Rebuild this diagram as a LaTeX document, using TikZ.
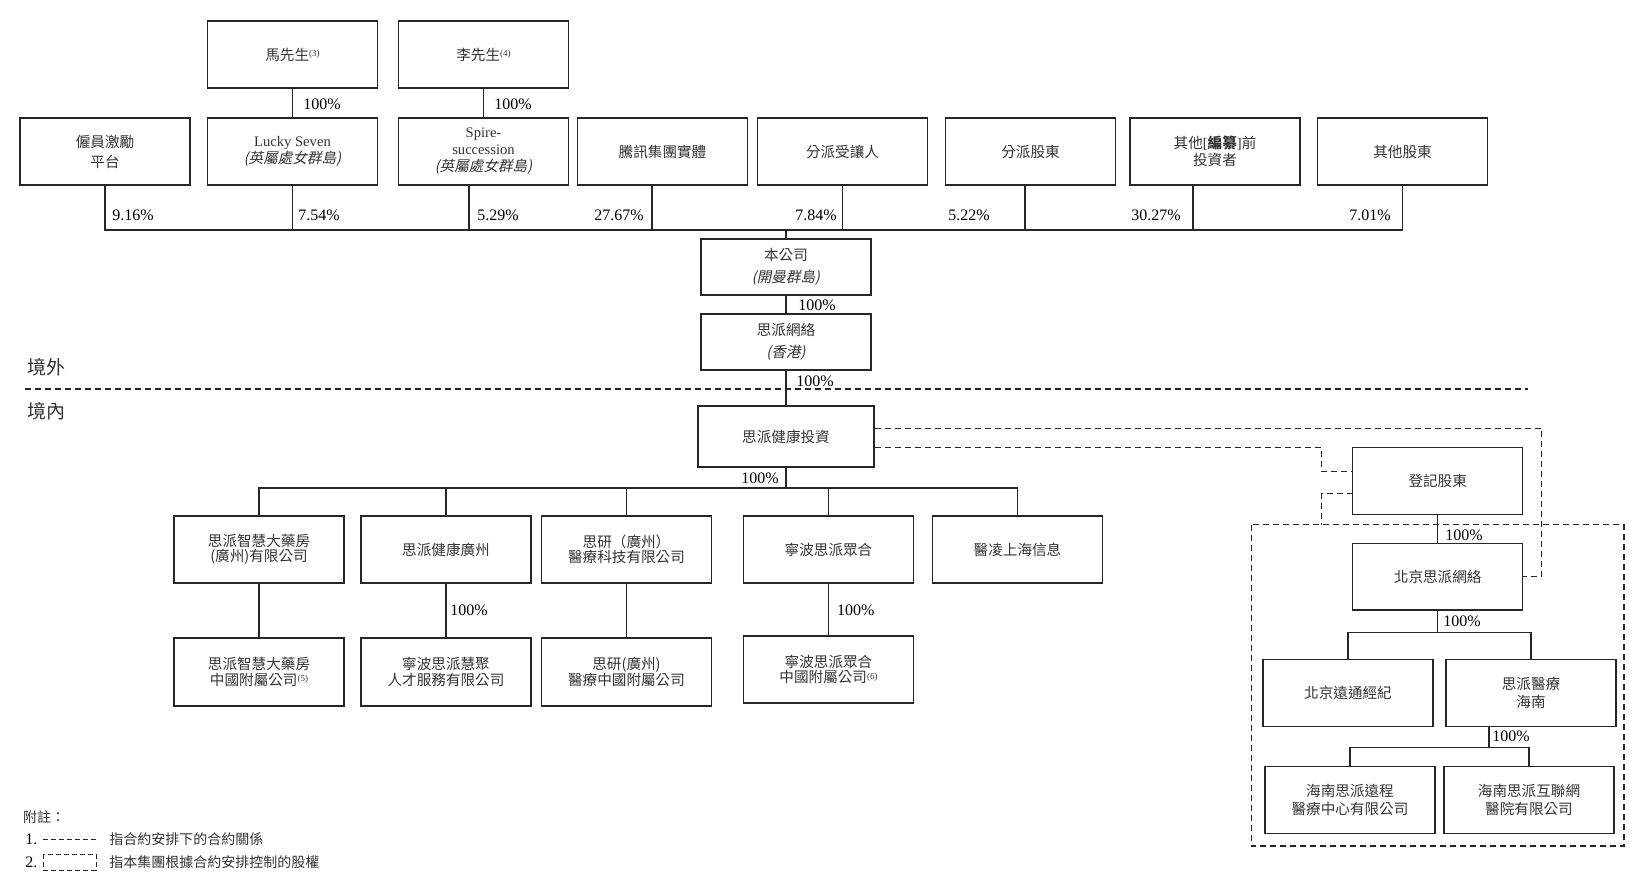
\documentclass[tikz,border=0pt]{standalone}
\usepackage{fontspec}
\setmainfont{Liberation Serif}
\newfontfamily\cjk{Noto Sans CJK TC}
\newfontfamily\cjkit{Noto Sans CJK TC}[FakeSlant=0.2]
\newcommand\fnm[1]{\raisebox{1.6pt}{\rmfamily\fontsize{4.5}{4.5}\selectfont(#1)}}
\tikzset{
  box/.style={draw=black!85, line width=0.75pt, inner sep=0pt, align=center,
    font=\cjk\fontsize{7.3}{8.5}\selectfont, text=black!80,
    minimum width=85pt, minimum height=33.5pt},
  tight/.style={font=\cjk\fontsize{7.3}{7.6}\selectfont},
  loose/.style={font=\cjk\fontsize{7.3}{11}\selectfont},
  mid/.style={font=\cjk\fontsize{7.3}{9}\selectfont},
  pct/.style={font=\rmfamily\fontsize{8}{8}\selectfont, inner sep=0pt, text=black},
  conn/.style={draw=black!85, line width=0.75pt},
  contract/.style={draw=black!85, line width=0.75pt, dash pattern=on 3pt off 2pt},
  zone/.style={font=\cjk\fontsize{9.5}{9.5}\selectfont, inner sep=0pt, anchor=west, text=black!80},
  legend/.style={font=\cjk\fontsize{7}{7}\selectfont, inner sep=0pt, anchor=west, text=black!80},
}
\begin{document}
\begin{tikzpicture}[x=0.5pt, y=-0.5pt]
\useasboundingbox[fill=white] (0,0) rectangle (1642,890);

% ---- top owners
\node[box] (ma) at (292.5,54.5) {馬先生\fnm{3}};
\node[box] (li) at (483.5,54.5) {李先生\fnm{4}};

% ---- shareholders row
\node[box, font=\cjk\fontsize{7.3}{10}\selectfont] (emp) at (105,151.5) {僱員激勵\\平台};
\node[box] (lucky) at (292.5,151.5) {{\rmfamily Lucky Seven}\\{\cjkit (英屬處女群島)}};
\node[box] (spire) at (483.5,151.5) {{\rmfamily Spire-}\\{\rmfamily succession}\\{\cjkit (英屬處女群島)}};
\node[box] (tencent) at (662.5,151.5) {騰訊集團實體};
\node[box] (assignee) at (842.5,151.5) {分派受讓人};
\node[box] (distsh) at (1030.5,151.5) {分派股東};
\node[box] (preipo) at (1215,151.5) {其他{\rmfamily[}{\bfseries 編纂}{\rmfamily]}前\\投資者};
\node[box] (othersh) at (1402.5,151.5) {其他股東};

% ---- company chain
\node[box, loose, minimum height=28pt] (company) at (786,267) {本公司\\{\cjkit (開曼群島)}};
\node[box, loose, minimum height=28pt] (hk) at (786,342) {思派網絡\\{\cjkit (香港)}};
\node[box, minimum width=88pt, minimum height=30.5pt] (health) at (786,436.5) {思派健康投資};

% ---- row 2
\node[box, tight] (r2a) at (259,549.5) {思派智慧大藥房\\(廣州)有限公司};
\node[box] (r2b) at (446,549.5) {思派健康廣州};
\node[box, tight] (r2c) at (626.5,549.5) {思研（廣州）\\醫療科技有限公司};
\node[box] (r2d) at (828.5,549.5) {寧波思派眾合};
\node[box] (r2e) at (1017.5,549.5) {醫凌上海信息};

% ---- row 3
\node[box, tight, minimum height=34pt] (r3a) at (259,672) {思派智慧大藥房\\中國附屬公司\fnm{5}};
\node[box, tight, minimum height=34pt] (r3b) at (446,672) {寧波思派慧聚\\人才服務有限公司};
\node[box, tight, minimum height=34pt] (r3c) at (626.5,672) {思研(廣州)\\醫療中國附屬公司};
\node[box, tight] (r3d) at (828.5,669.5) {寧波思派眾合\\中國附屬公司\fnm{6}};

% ---- right group
\node[box, minimum height=33.3pt] (reg) at (1437.7,481) {登記股東};
\node[box, minimum height=33.3pt] (bjsp) at (1437.7,576.7) {北京思派網絡};
\node[box, minimum height=33.7pt] (bjyt) at (1348,693) {北京遠通經紀};
\node[box, mid, minimum height=33.7pt] (spyl) at (1531,693) {思派醫療\\海南};
\node[box, mid, minimum height=33.3pt] (hnyc) at (1350,800) {海南思派遠程\\醫療中心有限公司};
\node[box, mid, minimum height=33.3pt] (hnhl) at (1529,800) {海南思派互聯網\\醫院有限公司};

% ---- connector helper coordinates
\coordinate (bus1) at (786,230);
\coordinate (spireB) at (469,185);
\coordinate (tencentB) at (652,185);
\coordinate (distshB) at (1025,185);
\coordinate (preipoB) at (1193,185);
\coordinate (bus2) at (786,488);
\coordinate (bus3) at (1437.7,632.3);
\coordinate (spylB) at (1489,726.7);
\coordinate (bus4) at (1489,747.7);

% ---- solid connectors
\draw[conn] (ma) -- (lucky);
\draw[conn] (li) -- (spire);
\draw[conn] (emp.south) -- (emp.south |- bus1) -- (othersh.south |- bus1) -- (othersh.south);
\draw[conn] (lucky.south) -- (lucky.south |- bus1);
\draw[conn] (spireB) -- (spireB |- bus1);
\draw[conn] (tencentB) -- (tencentB |- bus1);
\draw[conn] (assignee.south) -- (assignee.south |- bus1);
\draw[conn] (distshB) -- (distshB |- bus1);
\draw[conn] (preipoB) -- (preipoB |- bus1);
\draw[conn] (bus1) -- (company);
\draw[conn] (company) -- (hk);
\draw[conn] (hk) -- (health);
\draw[conn] (health) -- (bus2);
\draw[conn] (r2a.north) -- (r2a.north |- bus2) -- (r2e.north |- bus2) -- (r2e.north);
\draw[conn] (r2b.north) -- (r2b.north |- bus2);
\draw[conn] (r2c.north) -- (r2c.north |- bus2);
\draw[conn] (r2d.north) -- (r2d.north |- bus2);
\draw[conn] (r2a) -- (r3a);
\draw[conn] (r2b) -- (r3b);
\draw[conn] (r2c) -- (r3c);
\draw[conn] (r2d) -- (r3d);
\draw[conn] (reg) -- (bjsp);
\draw[conn] (bjsp) -- (bus3);
\draw[conn] (bjyt.north) -- (bjyt.north |- bus3) -- (spyl.north |- bus3) -- (spyl.north);
\draw[conn] (spylB) -- (bus4);
\draw[conn] (hnyc.north) -- (hnyc.north |- bus4) -- (hnhl.north |- bus4) -- (hnhl.north);

% ---- percentages
\node[pct, anchor=west] at (112,215) {9.16\%};
\node[pct, anchor=west] at (298,215) {7.54\%};
\node[pct, anchor=west] at (477,215) {5.29\%};
\node[pct, anchor=east] at (644,215) {27.67\%};
\node[pct, anchor=east] at (837,215) {7.84\%};
\node[pct, anchor=east] at (990,215) {5.22\%};
\node[pct, anchor=east] at (1181,215) {30.27\%};
\node[pct, anchor=east] at (1391,215) {7.01\%};
\node[pct, anchor=west] at (303,104) {100\%};
\node[pct, anchor=west] at (494,104) {100\%};
\node[pct, anchor=west] at (798,305) {100\%};
\node[pct, anchor=west] at (796,381.5) {100\%};
\node[pct, anchor=east] at (779,478) {100\%};
\node[pct, anchor=west] at (450,610.5) {100\%};
\node[pct, anchor=west] at (836.7,610) {100\%};
\node[pct, anchor=west] at (1445,535) {100\%};
\node[pct, anchor=west] at (1443,621.7) {100\%};
\node[pct, anchor=west] at (1492,736.7) {100\%};

% ---- offshore / onshore divider
\draw[contract] (25,389) -- (1528,389);
\node[zone] at (27,367) {境外};
\node[zone] at (27,411) {境內};

% ---- contractual arrangements
\coordinate (c1) at (1541.7,428.3);
\coordinate (c2) at (1321.7,447.7);
\coordinate (regA) at (1352.7,471.7);
\coordinate (regB) at (1352.7,493.7);
\coordinate (dtop) at (1321.7,524.7);
\draw[contract] (health.east |- c1) -- (c1) -- (c1 |- bjsp.east) -- (bjsp.east);
\draw[contract] (health.east |- c2) -- (c2) |- (regA);
\draw[contract] (regB) -| (dtop);
\draw[contract] (1251.3,524.7) rectangle (1624,846);

% ---- legend
\node[legend] at (22.7,817) {附註：};
\node[pct, anchor=west] at (25,839) {1.};
\node[pct, anchor=west] at (25,862) {2.};
\draw[draw=black!85, line width=0.5pt, dash pattern=on 2.5pt off 1.5pt] (43,839) -- (96,839);
\draw[draw=black!85, line width=0.5pt, dash pattern=on 2.5pt off 1.5pt] (43,854) rectangle (96,870);
\node[legend] at (109,839) {指合約安排下的合約關係};
\node[legend] at (109,862) {指本集團根據合約安排控制的股權};
\end{tikzpicture}
\end{document}
